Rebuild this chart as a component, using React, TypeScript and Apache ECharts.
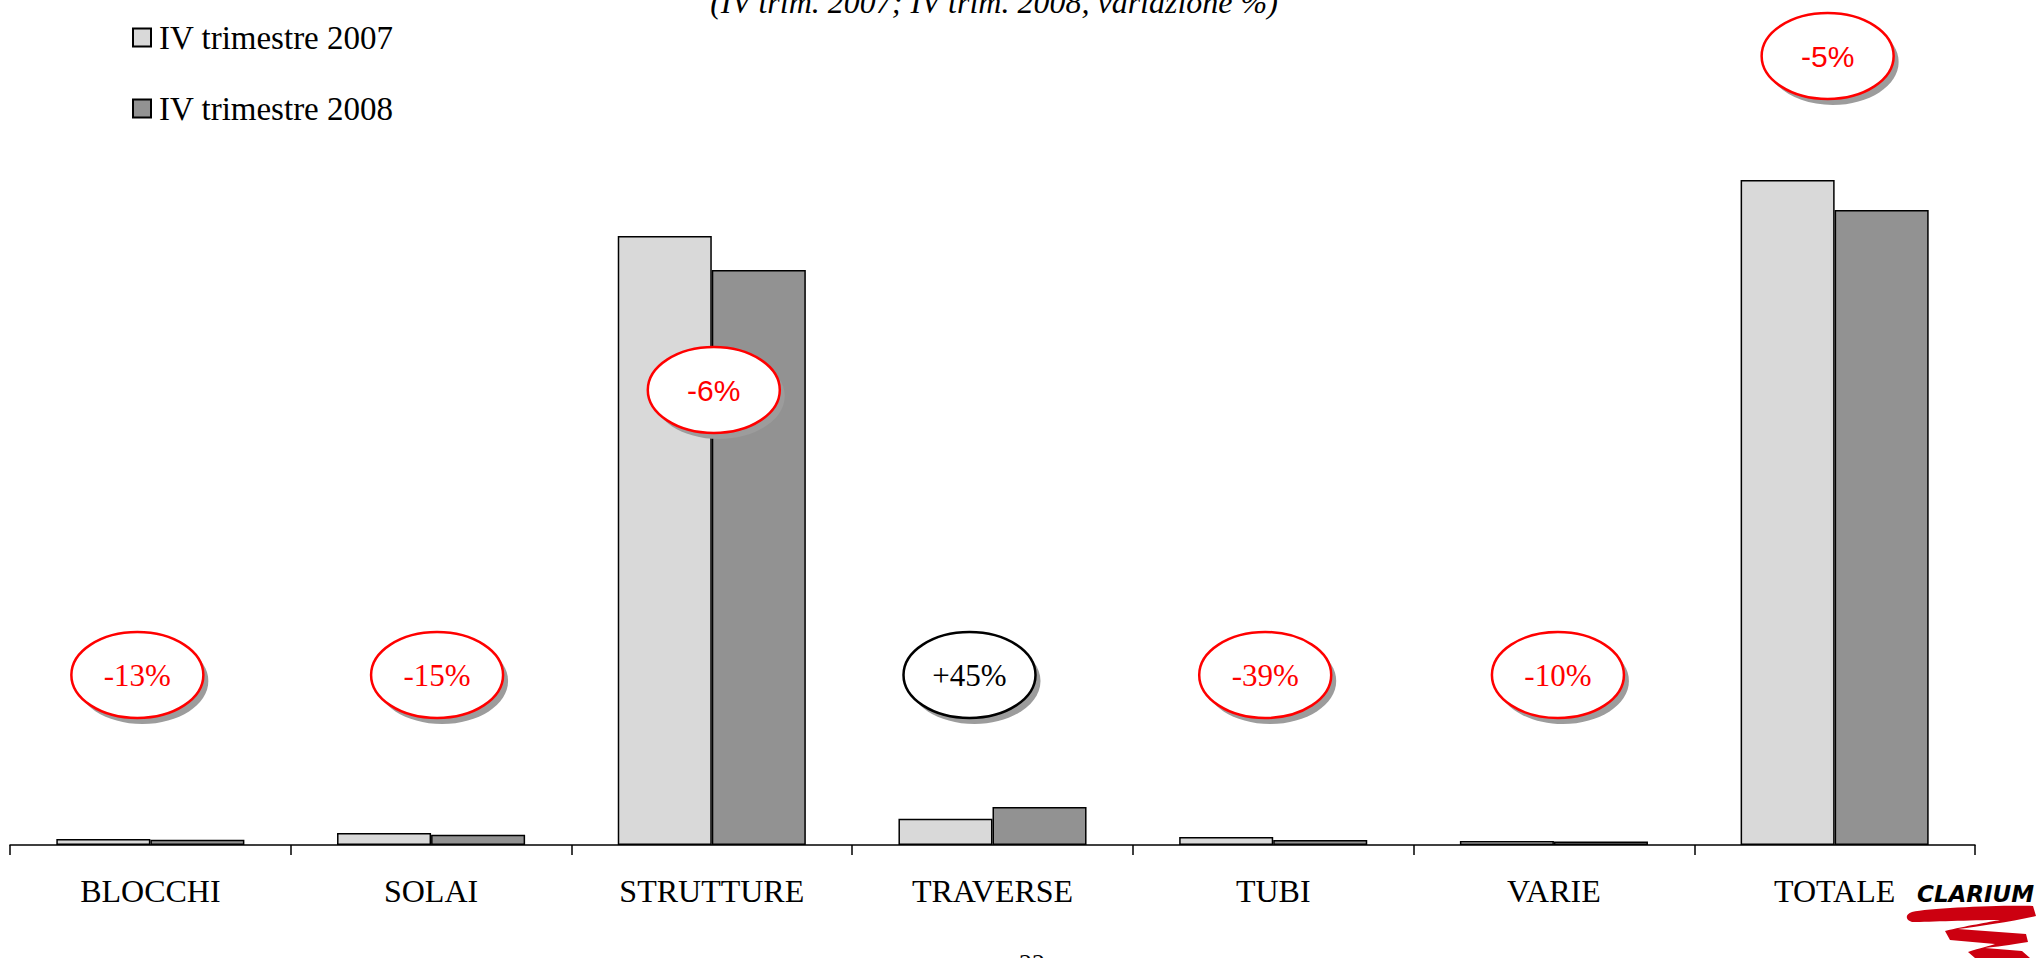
import React, { useEffect, useRef } from "react";
import * as echarts from "echarts";

// ---- data ----
const categories = ["BLOCCHI", "SOLAI", "STRUTTURE", "TRAVERSE", "TUBI", "VARIE", "TOTALE"];
const seriesNames = ["IV trimestre 2007", "IV trimestre 2008"];
const values2007 = [6, 12, 609, 26.2, 8, 4, 665];
const values2008 = [5.2, 10.2, 575, 38, 4.9, 3.6, 635];
const changeLabels = ["-13%", "-15%", "-6%", "+45%", "-39%", "-10%", "-5%"];
const subtitle = "(IV trim. 2007; IV trim. 2008, variazione %)";
const pageNumber = "22";

// ---- annotation layout (not data) ----
const bubbleLevels = [170, 170, 455, 170, 170, 170, 789];
const bubbleNudge = [-13, 6, 2, -23, -8, 4, -7];
const bubbleColors = ["#ff0000", "#ff0000", "#ff0000", "#000000", "#ff0000", "#ff0000", "#ff0000"];
const bubbleSans = [false, false, true, false, false, false, true];

const LOGO_D =
  "M7,7 C25,3 95,0 128,1 L131,11 C105,17 75,21 53,24 L121,29 L123,37 C105,40 90,42 80,43 L117,46 L125,53 L70,53 L63,47 C75,43 85,41 90,39 L45,35 L40,26 C60,21 85,17 95,15 C65,15 25,17 7,17 C0,15 0,9 7,7 Z";

let logoRegistered = false;

export default function App() {
  const ref = useRef<HTMLDivElement>(null);

  useEffect(() => {
    if (!ref.current) return;
    if (!logoRegistered) {
      echarts.graphic.registerShape("logo", echarts.graphic.extendPath(LOGO_D, {}));
      logoRegistered = true;
    }
    const chart = echarts.init(ref.current, null, { renderer: "svg" });
    const serif = "'Liberation Serif', 'Times New Roman', serif";
    const option: any = {
      animation: false,
      backgroundColor: "#ffffff",
      grid: { left: 10, right: 65, top: 0, bottom: 113, containLabel: false },
      legend: {
        orient: "vertical",
        left: 127,
        top: 16,
        icon: "rect",
        itemWidth: 18,
        itemHeight: 18,
        itemGap: 38,
        data: seriesNames,
        textStyle: { fontFamily: serif, fontSize: 33, color: "#000", padding: [0, 0, 0, 3] },
        selectedMode: false,
      },
      xAxis: {
        type: "category",
        data: categories,
        boundaryGap: true,
        axisLine: { show: true, lineStyle: { color: "#000", width: 1.5 } },
        axisTick: { show: true, length: 10, lineStyle: { color: "#000", width: 1.5 } },
        axisLabel: { interval: 0, fontFamily: serif, fontSize: 32, color: "#000", margin: 30 },
        splitLine: { show: false },
      },
      yAxis: {
        type: "value",
        min: 0,
        max: 845,
        show: false,
        splitLine: { show: false },
      },
      series: [
        {
          name: seriesNames[0],
          type: "bar",
          data: values2007,
          barGap: "0%",
          barCategoryGap: "33%",
          itemStyle: { color: "#d9d9d9", borderColor: "#000", borderWidth: 1.5 },
        },
        {
          name: seriesNames[1],
          type: "bar",
          data: values2008,
          barGap: "0%",
          barCategoryGap: "33%",
          itemStyle: { color: "#929292", borderColor: "#000", borderWidth: 1.5 },
        },
        {
          type: "custom",
          coordinateSystem: "cartesian2d",
          silent: true,
          clip: false,
          z: 10,
          data: changeLabels.map((_, i) => [i, bubbleLevels[i]]),
          renderItem: (params: any, api: any) => {
            const i = params.dataIndex;
            const pt = api.coord([api.value(0), api.value(1)]);
            const cx = pt[0] + bubbleNudge[i];
            const cy = pt[1];
            const color = bubbleColors[i];
            const font = bubbleSans[i]
              ? "30px 'Liberation Sans', Arial, sans-serif"
              : "31px 'Liberation Serif', 'Times New Roman', serif";
            return {
              type: "group",
              children: [
                { type: "ellipse", shape: { cx: cx + 5, cy: cy + 6, rx: 66, ry: 43 }, style: { fill: "#9c9c9c" } },
                {
                  type: "ellipse",
                  shape: { cx, cy, rx: 66, ry: 43 },
                  style: { fill: "#ffffff", stroke: color, lineWidth: 2.5 },
                },
                {
                  type: "text",
                  x: cx,
                  y: cy,
                  style: { text: changeLabels[i], fill: color, font, align: "center", verticalAlign: "middle" },
                },
              ],
            };
          },
        },
      ],
      graphic: [
        {
          type: "text",
          x: 994,
          y: 18,
          style: {
            text: subtitle,
            fill: "#000",
            font: "italic 32px 'Liberation Serif', 'Times New Roman', serif",
            align: "center",
            verticalAlign: "bottom",
          },
        },
        {
          type: "text",
          x: 1032,
          y: 950,
          style: {
            text: pageNumber,
            fill: "#000",
            font: "26px 'Liberation Serif', 'Times New Roman', serif",
            align: "center",
            verticalAlign: "top",
          },
        },
        {
          type: "text",
          x: 1917,
          y: 894,
          style: {
            text: "CLARIUM",
            fill: "#000",
            font: "italic bold 23px 'DejaVu Sans', sans-serif",
            align: "left",
            verticalAlign: "middle",
          },
        },
        {
          type: "logo",
          x: 1905,
          y: 905,
          scaleX: 1,
          scaleY: 1,
          style: { fill: "#cc0010" },
        },
      ],
    };
    chart.setOption(option);
    return () => chart.dispose();
  }, []);

  return (
    <div
      ref={ref}
      style={{ position: "absolute", left: 0, top: 0, width: 2040, height: 958, background: "#fff" }}
    />
  );
}
